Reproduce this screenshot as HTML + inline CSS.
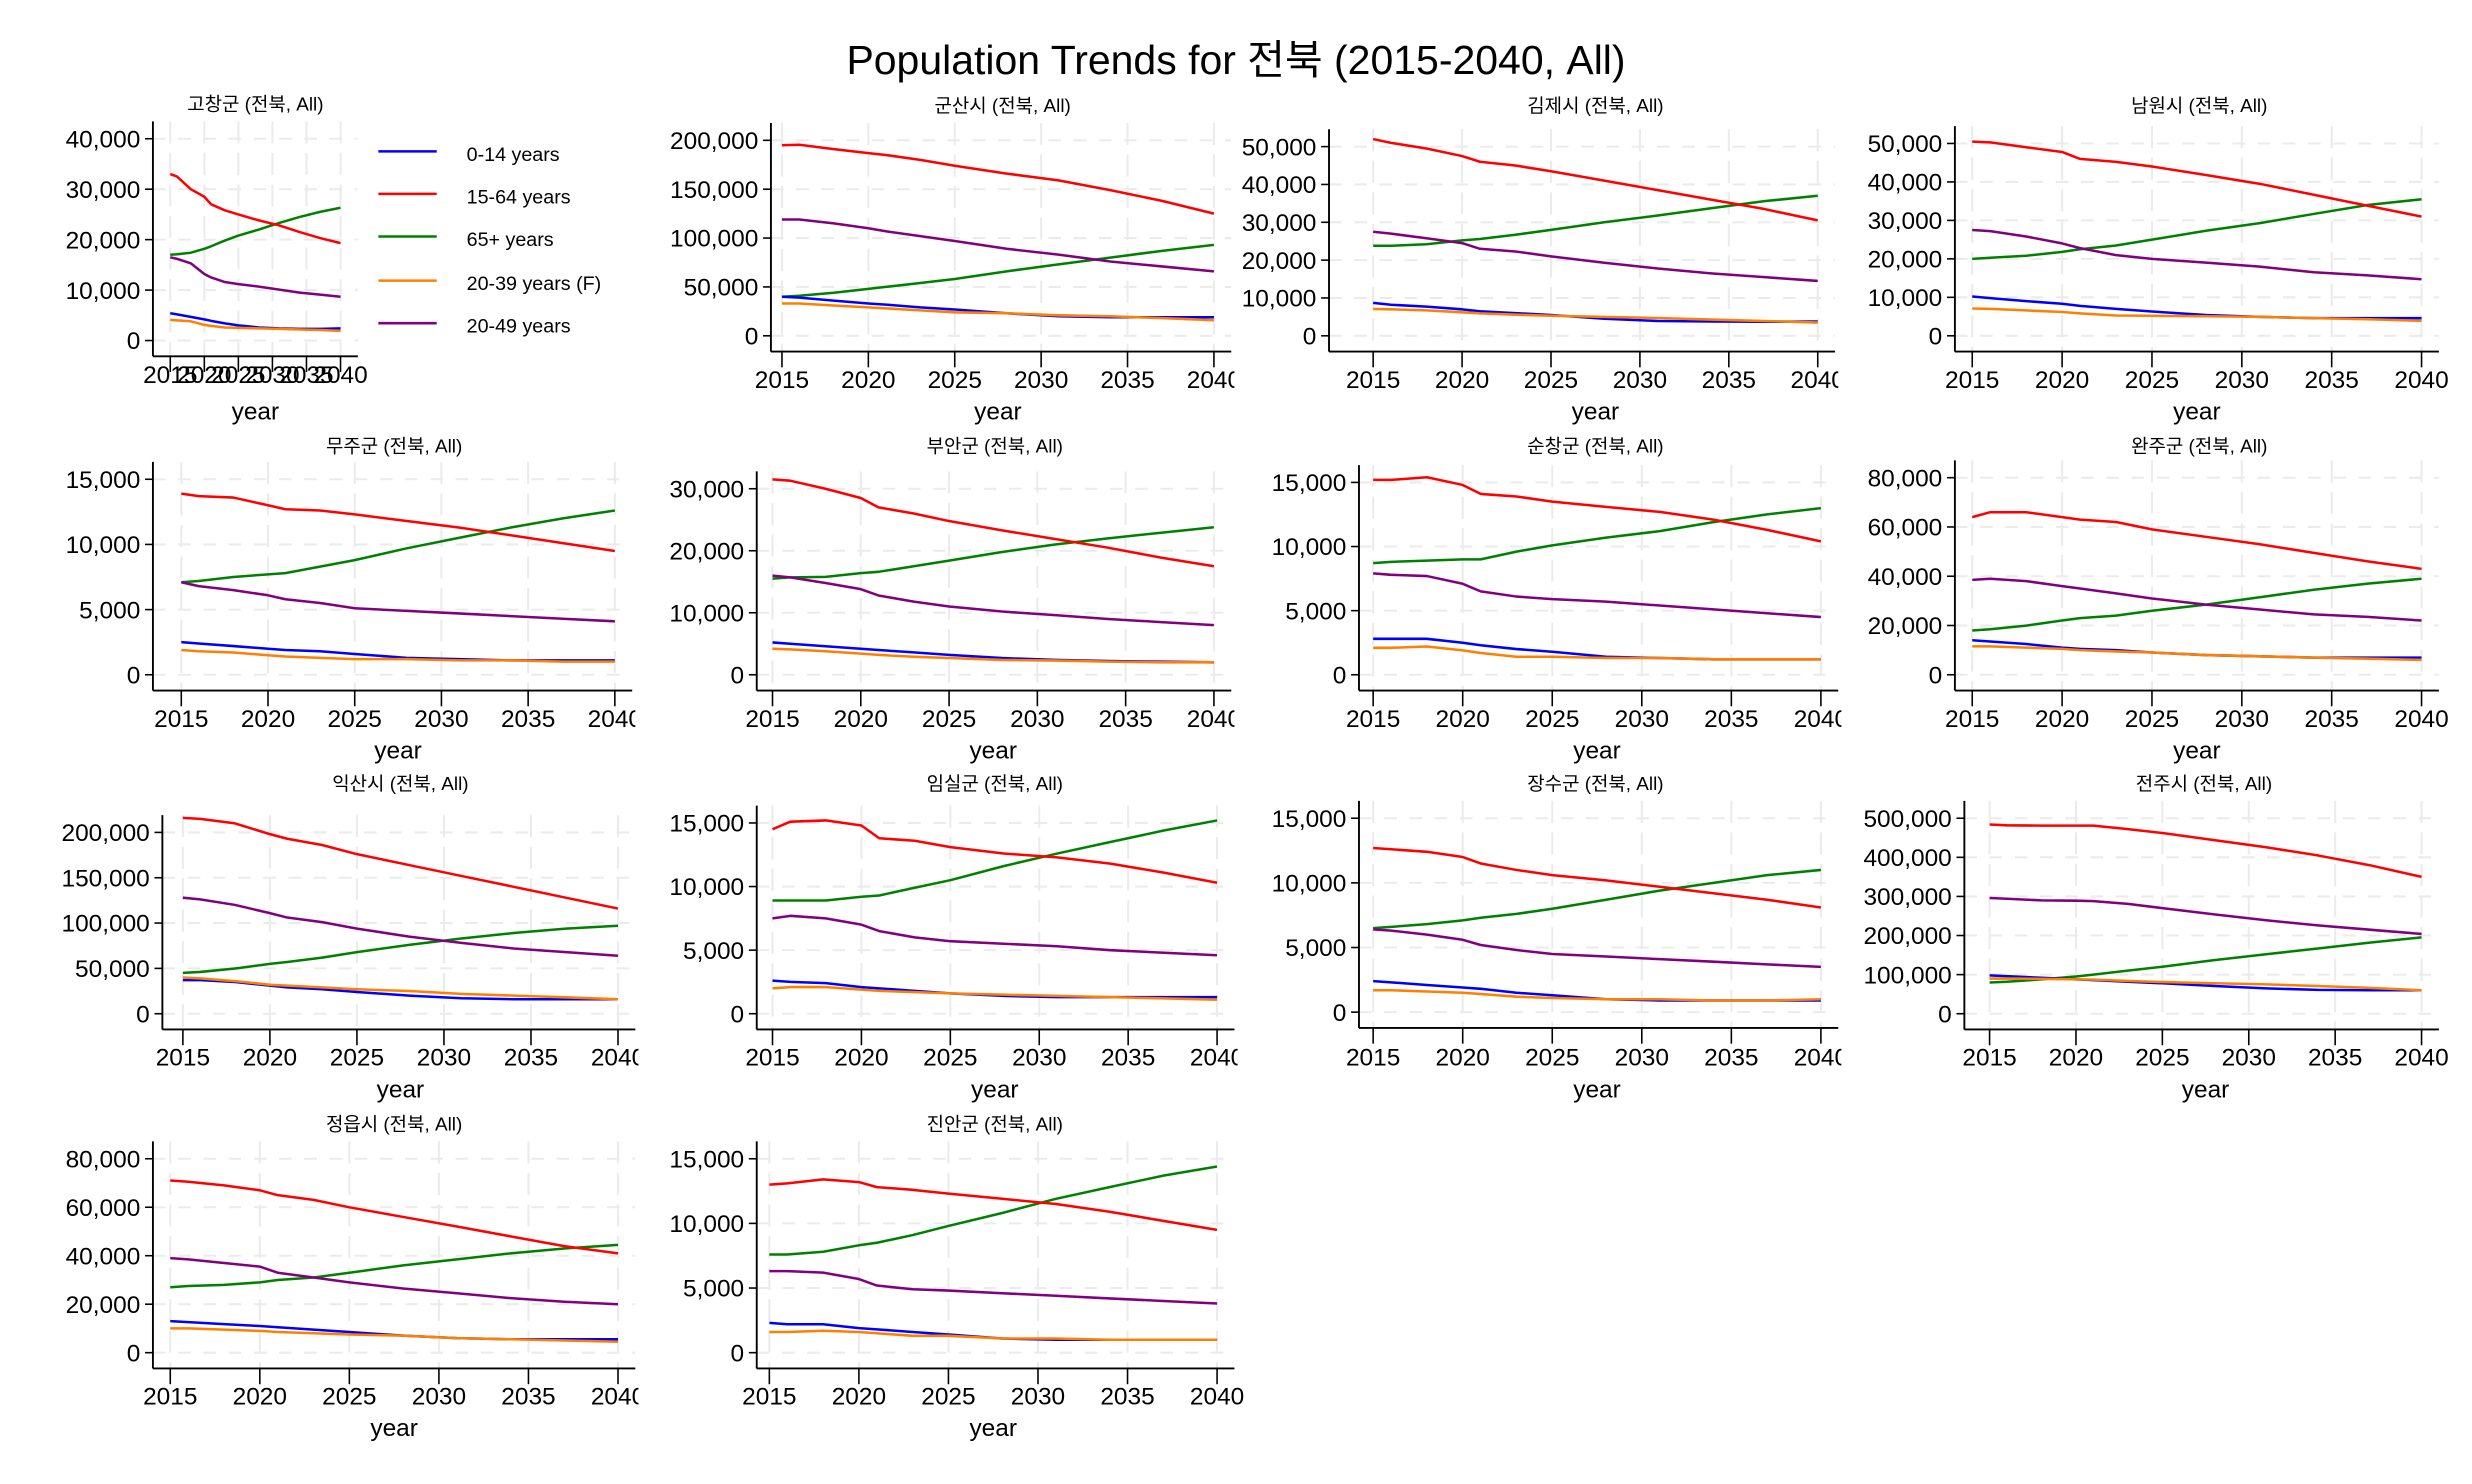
<!DOCTYPE html>
<html><head><meta charset="utf-8"><style>
html,body{margin:0;padding:0;background:#fff;}
svg{display:block;font-family:"Liberation Sans","Noto Sans CJK KR",sans-serif;}
</style></head><body>
<svg id="chart" width="2472" height="1484" viewBox="0 0 1568 941.3" preserveAspectRatio="none" xmlns="http://www.w3.org/2000/svg">
<rect width="1568" height="941.3" fill="#fff"/>
<text x="784" y="47" text-anchor="middle" font-size="26" fill="#000">Population Trends for 전북 (2015-2040, All)</text>
<g>
<line x1="240" y1="96" x2="277" y2="96" stroke="#0000ff" stroke-width="1.6"/><text x="296" y="102" font-size="12.5">0-14 years</text>
<line x1="240" y1="123" x2="277" y2="123" stroke="#ff0000" stroke-width="1.6"/><text x="296" y="129" font-size="12.5">15-64 years</text>
<line x1="240" y1="150" x2="277" y2="150" stroke="#008000" stroke-width="1.6"/><text x="296" y="156" font-size="12.5">65+ years</text>
<line x1="240" y1="178" x2="277" y2="178" stroke="#ff8000" stroke-width="1.6"/><text x="296" y="184" font-size="12.5">20-39 years (F)</text>
<line x1="240" y1="205" x2="277" y2="205" stroke="#800080" stroke-width="1.6"/><text x="296" y="211" font-size="12.5">20-49 years</text>
</g>
</svg>
<script>
const years = [2015,2016,2018,2020,2021,2023,2025,2028,2031,2034,2037,2040];
const xTicks = [2015,2020,2025,2030,2035,2040];
const seriesNames = ["15-64 years","65+ years","20-49 years","0-14 years","20-39 years (F)"];
const seriesColors = ["#ff0000","#008000","#800080","#0000ff","#ff8000"];
const regions = ["고창군","군산시","김제시","남원시","무주군","부안군","순창군","완주군","익산시","임실군","장수군","전주시","정읍시","진안군"];
const yMaxTick = [40000,200000,50000,50000,15000,30000,15000,80000,200000,15000,15000,500000,80000,15000];
const yStep = [10000,50000,10000,10000,5000,10000,5000,20000,50000,5000,5000,100000,20000,5000];
const d_gochang = [
[33000,32500,30000,28500,27000,25800,25000,23800,22800,21500,20300,19300],
[17000,17100,17400,18200,18700,19800,20800,22000,23300,24500,25500,26300],
[16500,16200,15300,13200,12500,11600,11200,10700,10100,9500,9100,8700],
[5400,5200,4700,4200,3900,3400,3000,2600,2400,2300,2300,2400],
[4100,4000,3800,3100,2900,2600,2500,2400,2300,2200,2100,1900]];
const d_gunsan = [
[195000,195500,191000,187000,185000,180000,174000,166000,159000,149000,138000,125000],
[40000,41000,44000,48000,50000,54000,58000,66000,73000,80000,87000,93000],
[119000,119000,115000,110000,107000,102000,97000,89000,83000,76000,71000,66000],
[40000,39000,36000,33000,32000,29000,27000,23000,20000,19000,19000,19000],
[33000,33000,31000,29000,28000,26000,24000,23000,21000,20000,18000,16000]];
const d_gimje = [
[52000,51000,49500,47500,46000,45000,43500,41000,38500,36000,33500,30500],
[23800,23800,24200,25200,25600,26700,28000,30000,31800,33700,35600,37000],
[27500,27000,25800,24500,23000,22300,21000,19300,17800,16500,15500,14500],
[8700,8200,7700,7000,6500,6000,5500,4500,3900,3800,3700,3800],
[7100,7000,6700,6200,5900,5600,5300,5000,4700,4300,3900,3500]];
const d_namwon = [
[50500,50300,49000,47800,46000,45200,44000,41800,39500,36700,33800,31000],
[20000,20300,20800,21800,22500,23500,25000,27300,29300,31700,34000,35500],
[27500,27200,25800,24000,22800,21000,20000,19000,18000,16500,15700,14700],
[10200,9800,9000,8300,7800,7000,6300,5400,4900,4600,4600,4600],
[7100,7000,6600,6200,5800,5300,5200,5100,4900,4600,4300,3900]];
const d_muju = [
[13900,13700,13600,13000,12700,12600,12300,11800,11300,10700,10100,9500],
[7100,7200,7500,7700,7800,8300,8800,9700,10500,11300,12000,12600],
[7100,6800,6500,6100,5800,5500,5100,4900,4700,4500,4300,4100],
[2500,2400,2200,2000,1900,1800,1600,1300,1200,1100,1100,1100],
[1900,1800,1700,1500,1400,1300,1200,1200,1100,1100,1000,1000]];
const d_buan = [
[31500,31300,30000,28500,27000,26000,24800,23300,21900,20500,18900,17500],
[15500,15700,15800,16400,16600,17500,18400,19800,21000,22000,22900,23800],
[16000,15700,14800,13800,12800,11800,11000,10200,9600,9000,8500,8000],
[5200,5000,4600,4200,4000,3600,3200,2700,2400,2200,2100,2000],
[4200,4100,3800,3400,3200,2900,2700,2400,2300,2100,2000,2000]];
const d_sunchang = [
[15200,15200,15400,14800,14100,13900,13500,13100,12700,12100,11300,10400],
[8700,8800,8900,9000,9000,9600,10100,10700,11200,11900,12500,13000],
[7900,7800,7700,7100,6500,6100,5900,5700,5400,5100,4800,4500],
[2800,2800,2800,2500,2300,2000,1800,1400,1300,1200,1200,1200],
[2100,2100,2200,1900,1700,1400,1400,1300,1300,1200,1200,1200]];
const d_wanju = [
[64000,66000,66000,64000,63000,62000,59000,56000,53000,49500,46000,43000],
[18000,18500,20000,22000,23000,24000,26000,28500,31500,34500,37000,39000],
[38500,39000,38000,36000,35000,33000,31000,28500,26500,24500,23500,22000],
[14000,13500,12500,11000,10500,10000,9000,8000,7500,7000,7000,7000],
[11500,11500,11000,10500,10000,9500,9000,8000,7500,7000,6500,6000]];
const d_iksan = [
[216000,215000,210000,198000,193000,186000,176000,164000,152000,140000,128000,116000],
[45000,46000,50000,55000,57000,62000,68000,76000,83000,89000,94000,97000],
[128000,126000,120000,111000,106000,101000,94000,85000,78000,72000,68000,64000],
[37000,37000,35000,31000,29000,27000,24000,20000,17000,16000,16000,16000],
[40000,39000,36000,32000,31000,29000,27000,25000,22000,20000,18000,16000]];
const d_imsil = [
[14500,15100,15200,14800,13800,13600,13100,12600,12300,11800,11100,10300],
[8900,8900,8900,9200,9300,9900,10500,11600,12600,13500,14400,15200],
[7500,7700,7500,7000,6500,6000,5700,5500,5300,5000,4800,4600],
[2600,2500,2400,2100,2000,1800,1600,1400,1300,1300,1300,1300],
[2000,2100,2100,1900,1800,1700,1600,1500,1400,1300,1200,1100]];
const d_jangsu = [
[12700,12600,12400,12000,11500,11000,10600,10200,9700,9200,8700,8100],
[6500,6600,6800,7100,7300,7600,8000,8700,9400,10000,10600,11000],
[6400,6300,6000,5600,5200,4800,4500,4300,4100,3900,3700,3500],
[2400,2300,2100,1900,1800,1500,1300,1000,900,900,900,900],
[1700,1700,1600,1500,1400,1200,1100,1000,1000,900,900,1000]];
const d_jeonju = [
[484000,482000,481000,481000,481000,472000,462000,444000,426000,405000,380000,350000],
[80000,82000,88000,95000,100000,110000,120000,137000,152000,167000,182000,195000],
[296000,294000,290000,289000,288000,281000,270000,254000,239000,226000,215000,204000],
[98000,96000,92000,88000,86000,82000,78000,71000,65000,61000,60000,60000],
[90000,90000,89000,88000,87000,84000,81000,78000,75000,71000,66000,60000]];
const d_jeongeup = [
[71000,70500,69000,67000,65000,63000,60000,56000,52000,48000,44000,41000],
[27000,27500,28000,29000,30000,31000,33000,36000,38500,41000,43000,44500],
[39000,38500,37000,35500,33000,31000,29000,26500,24500,22500,21000,20000],
[13000,12600,11800,11000,10500,9500,8500,7000,6000,5500,5500,5500],
[10000,10000,9500,9000,8500,8000,7500,7000,6000,5500,5000,4500]];
const d_jinan = [
[13000,13100,13400,13200,12800,12600,12300,11900,11500,10900,10200,9500],
[7600,7600,7800,8300,8500,9100,9800,10800,11900,12800,13700,14400],
[6300,6300,6200,5700,5200,4900,4800,4600,4400,4200,4000,3800],
[2300,2200,2200,1900,1800,1600,1400,1100,1000,1000,1000,1000],
[1600,1600,1700,1600,1500,1300,1300,1100,1100,1000,1000,1000]];
const panelData = [d_gochang,d_gunsan,d_gimje,d_namwon,d_muju,d_buan,d_sunchang,d_wanju,d_iksan,d_imsil,d_jangsu,d_jeonju,d_jeongeup,d_jinan];

const layout = [
 {tx:162,ty:70,ax:97,x0:108,x1:216,y0:216,yt:88,lx:243,yr:266,clip:false},
 {tx:636,ty:71,ax:489,x0:496,x1:770,y0:213,yt:89,lx:246,yr:266,clip:true},
 {tx:1012,ty:71,ax:843,x0:871,x1:1153,y0:213,yt:93,lx:246,yr:266,clip:true},
 {tx:1395,ty:71,ax:1240,x0:1251,x1:1536,y0:213,yt:91,lx:246,yr:266,clip:false},
 {tx:250,ty:287,ax:97,x0:115,x1:390,y0:428,yt:304,lx:461,yr:481,clip:true},
 {tx:631,ty:287,ax:480,x0:490,x1:770,y0:428,yt:310,lx:461,yr:481,clip:true},
 {tx:1012,ty:287,ax:862,x0:871,x1:1155,y0:428,yt:306,lx:461,yr:481,clip:true},
 {tx:1395,ty:287,ax:1240,x0:1251,x1:1536,y0:428,yt:303,lx:461,yr:481,clip:false},
 {tx:254,ty:501,ax:103,x0:116,x1:392,y0:643,yt:528,lx:676,yr:696,clip:true},
 {tx:631,ty:501,ax:480,x0:490,x1:772,y0:643,yt:522,lx:676,yr:696,clip:true},
 {tx:1012,ty:501,ax:862,x0:871,x1:1155,y0:642,yt:519,lx:676,yr:696,clip:true},
 {tx:1398,ty:501,ax:1246,x0:1262,x1:1536,y0:643,yt:519,lx:676,yr:696,clip:false},
 {tx:250,ty:717,ax:97,x0:108,x1:392,y0:858,yt:735,lx:891,yr:911,clip:true},
 {tx:631,ty:717,ax:480,x0:488,x1:772,y0:858,yt:735,lx:891,yr:911,clip:false}
];

const NS = "http://www.w3.org/2000/svg";
const svg = document.getElementById("chart");
const defs = document.createElementNS(NS, "defs");
svg.appendChild(defs);
function mk(tag, attrs, parent){
  const e = document.createElementNS(NS, tag);
  for (const k in attrs) e.setAttribute(k, attrs[k]);
  parent.appendChild(e);
  return e;
}
const fmt = v => v.toLocaleString("en-US");

regions.forEach((name, i) => {
  const L = layout[i];
  const data = panelData[i];
  const g = mk("g", {}, svg);
  
  
  const xs = y => L.x0 + (y - 2015) / 25 * (L.x1 - L.x0);
  const ys = v => L.y0 - v / yMaxTick[i] * (L.y0 - L.yt);
  const axRight = L.x1 + 11;
  const axTop = L.yt - 11;
  const axBottom = L.y0 + 10;
  const cp = mk("clipPath", {id: "clip" + i}, defs);
  mk("rect", {x: 0, y: 0, width: axRight + 2, height: 941}, cp);
  for (let v = 0; v <= yMaxTick[i]; v += yStep[i]) {
    const gl = mk("line", {x1: L.ax, x2: axRight, y1: ys(v), y2: ys(v), stroke: "#ebebeb", "stroke-width": 1.3, "stroke-dasharray": "8,8"}, g);
    
    
    const tk = mk("line", {x1: L.ax - 5, x2: L.ax, y1: ys(v), y2: ys(v), stroke: "#000", "stroke-width": 1}, g);
    
    
    const t = mk("text", {x: L.ax - 8, y: ys(v) + 5.5, "text-anchor": "end", "font-size": 15.5, fill: "#000"}, g);
    t.textContent = fmt(v);
    
    
  }
  xTicks.forEach(yr => {
    const gl = mk("line", {x1: xs(yr), x2: xs(yr), y1: axTop, y2: axBottom, stroke: "#ebebeb", "stroke-width": 1.3, "stroke-dasharray": "14,6"}, g);
    
    
    const tk = mk("line", {x1: xs(yr), x2: xs(yr), y1: axBottom, y2: axBottom + 10, stroke: "#000", "stroke-width": 1}, g);
    
    
    const attrs = {x: xs(yr), y: L.lx, "text-anchor": "middle", "font-size": 15.5, fill: "#000"};
    if (L.clip) attrs["clip-path"] = "url(#clip" + i + ")";
    const t = mk("text", attrs, g);
    t.textContent = yr;
    
    
  });
  const ya = mk("line", {x1: L.ax, x2: L.ax, y1: axTop, y2: axBottom, stroke: "#000", "stroke-width": 1.2}, g);
  
  
  const xa = mk("line", {x1: L.ax, x2: axRight, y1: axBottom, y2: axBottom, stroke: "#000", "stroke-width": 1.2}, g);
  
  
  const tt = mk("text", {x: L.tx, y: L.ty, "text-anchor": "middle", "font-size": 12, fill: "#000"}, g);
  tt.textContent = name + " (전북, All)";
  
  
  const xt = mk("text", {x: (L.x0 + L.x1) / 2, y: L.yr, "text-anchor": "middle", "font-size": 15.5, fill: "#000"}, g);
  xt.textContent = "year";
  
  
  [1,0,2,3,4].forEach(s => {
    const pts = years.map((yr, k) => xs(yr).toFixed(1) + "," + ys(data[s][k]).toFixed(1)).join(" ");
    const pl = mk("polyline", {points: pts, fill: "none", stroke: seriesColors[s], "stroke-width": 1.6, "stroke-linejoin": "round"}, g);
    
    
  });
});
</script>
</body></html>
